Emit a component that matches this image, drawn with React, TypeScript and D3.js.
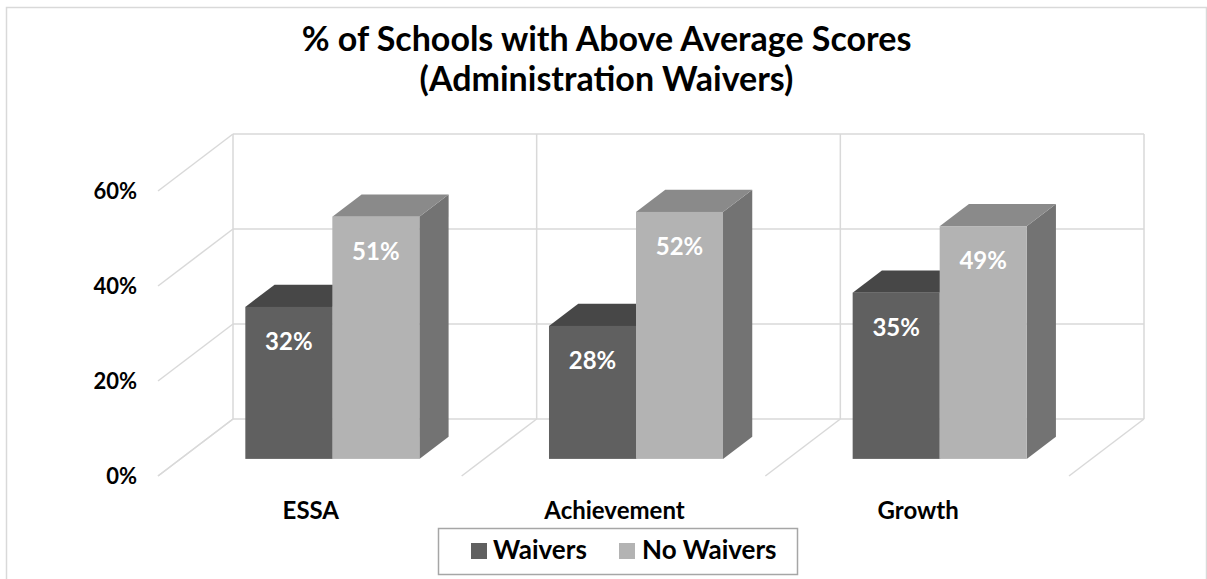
import React from 'react';
import * as d3 from 'd3';

// chart data
const categories = ['ESSA', 'Achievement', 'Growth'];
const seriesNames = ['Waivers', 'No Waivers'];
const waivers = [32, 28, 35];
const noWaivers = [51, 52, 49];
const yTicks = [0, 20, 40, 60];
const titleLines = ['% of Schools with Above Average Scores', '(Administration Waivers)'];

const W = 1207;
const H = 579;
const FONT = 'Lato, Carlito, Calibri, sans-serif';

// front plane of the plot and the depth vector of the 3d box
const plot = { left: 158, right: 1069, bottom: 476, top: 191 };
const depth = { dx: 75, dy: 57 };
const barZ = [0.3, 0.69];

const colors = {
    'Waivers': { front: '#606060', top: '#474747', side: '#3d3d3d' },
    'No Waivers': { front: '#b3b3b3', top: '#8a8a8a', side: '#737373' },
};
const grid = '#d9d9d9';

const App = () => {
    const x = d3.scaleBand().domain(categories).range([plot.left, plot.right]);
    const xSub = d3.scaleBand().domain(seriesNames)
        .range([0, x.bandwidth()])
        .paddingInner(0)
        .paddingOuter(0.745);
    const y = d3.scaleLinear().domain([0, 60]).range([plot.bottom, plot.top]);

    // project a point at depth z (0 = front, 1 = back wall)
    const proj = (px, py, z) => [px + z * depth.dx, py - z * depth.dy];
    const poly = pts => pts.map(p => p.join(',')).join(' ');

    const backLeft = proj(plot.left, 0, 1)[0];
    const backRight = proj(plot.right, 0, 1)[0];
    const bounds = [plot.left, ...categories.map(c => x(c) + x.bandwidth())];

    const values = { 'Waivers': waivers, 'No Waivers': noWaivers };

    const bars = [];
    categories.forEach((cat, i) => {
        seriesNames.forEach(s => {
            const v = values[s][i];
            const x0 = x(cat) + xSub(s);
            const x1 = x0 + xSub.bandwidth();
            const yb = y(0), yt = y(v);
            const [fx0, fyt] = proj(x0, yt, barZ[0]);
            const [fx1, fyb] = proj(x1, yb, barZ[0]);
            const [bx0, byt] = proj(x0, yt, barZ[1]);
            const [bx1, byb] = proj(x1, yb, barZ[1]);
            const c = colors[s];
            bars.push(
                <g key={cat + s}>
                    <polygon points={poly([[fx1, fyt], [bx1, byt], [bx1, byb], [fx1, fyb]])} fill={c.side} />
                    <polygon points={poly([[fx0, fyt], [bx0, byt], [bx1, byt], [fx1, fyt]])} fill={c.top} />
                    <rect x={fx0} y={fyt} width={fx1 - fx0} height={fyb - fyt} fill={c.front} />
                    <text x={(fx0 + fx1) / 2} y={fyt + 43} textAnchor="middle"
                        fill="#ffffff" fontWeight="bold" fontSize={24}>{v}%</text>
                </g>
            );
        });
    });

    return (
        <svg width={W} height={H} style={{ position: 'absolute', left: 0, top: 0, fontFamily: FONT }}>
            <rect x={0} y={0} width={W} height={H} fill="#ffffff" />
            <rect x={6.5} y={7.5} width={W - 7} height={H} fill="none" stroke={grid} strokeWidth={1.5} />

            {/* title */}
            <text textAnchor="middle" fontWeight="bold" fontSize={34} fill="#000000">
                {titleLines.map((t, i) => (
                    <tspan key={i} x={W / 2 + 3} y={51 + i * 40}>{t}</tspan>
                ))}
            </text>

            {/* gridlines: back wall and left side wall */}
            <g stroke={grid} strokeWidth={1.5} fill="none">
                {yTicks.map(t => {
                    const [fx, fy] = proj(plot.left, y(t), 0);
                    const [bx, by] = proj(plot.left, y(t), 1);
                    return (
                        <g key={t}>
                            <line x1={fx} y1={fy} x2={bx} y2={by} />
                            <line x1={backLeft} y1={by} x2={backRight} y2={by} />
                        </g>
                    );
                })}
                {bounds.map((b, i) => {
                    const [bx, by] = proj(b, y(0), 1);
                    const [, tyy] = proj(b, y(60), 1);
                    return (
                        <g key={i}>
                            <line x1={bx} y1={tyy} x2={bx} y2={by} />
                            <line x1={b} y1={y(0)} x2={bx} y2={by} />
                        </g>
                    );
                })}
            </g>

            {/* y axis labels */}
            {yTicks.map(t => (
                <text key={t} x={137} y={y(t) + 8} textAnchor="end" fontWeight="bold"
                    fontSize={22} fill="#000000">{t}%</text>
            ))}

            {bars}

            {/* category labels */}
            {categories.map(c => (
                <text key={c} x={x(c) + x.bandwidth() / 2 + 1} y={519} textAnchor="middle"
                    fontWeight="bold" fontSize={24} fill="#000000">{c}</text>
            ))}

            {/* legend */}
            <g>
                <rect x={438.5} y={528.5} width={359} height={46} fill="#ffffff" stroke="#a6a6a6" strokeWidth={1.5} />
                <rect x={471} y={543} width={16} height={16} fill={colors['Waivers'].front} />
                <text x={493} y={559} fontWeight="bold" fontSize={26} fill="#000000">Waivers</text>
                <rect x={619} y={543} width={16} height={16} fill={colors['No Waivers'].front} />
                <text x={642} y={559} fontWeight="bold" fontSize={26} fill="#000000">No Waivers</text>
            </g>
        </svg>
    );
};

export default App;
